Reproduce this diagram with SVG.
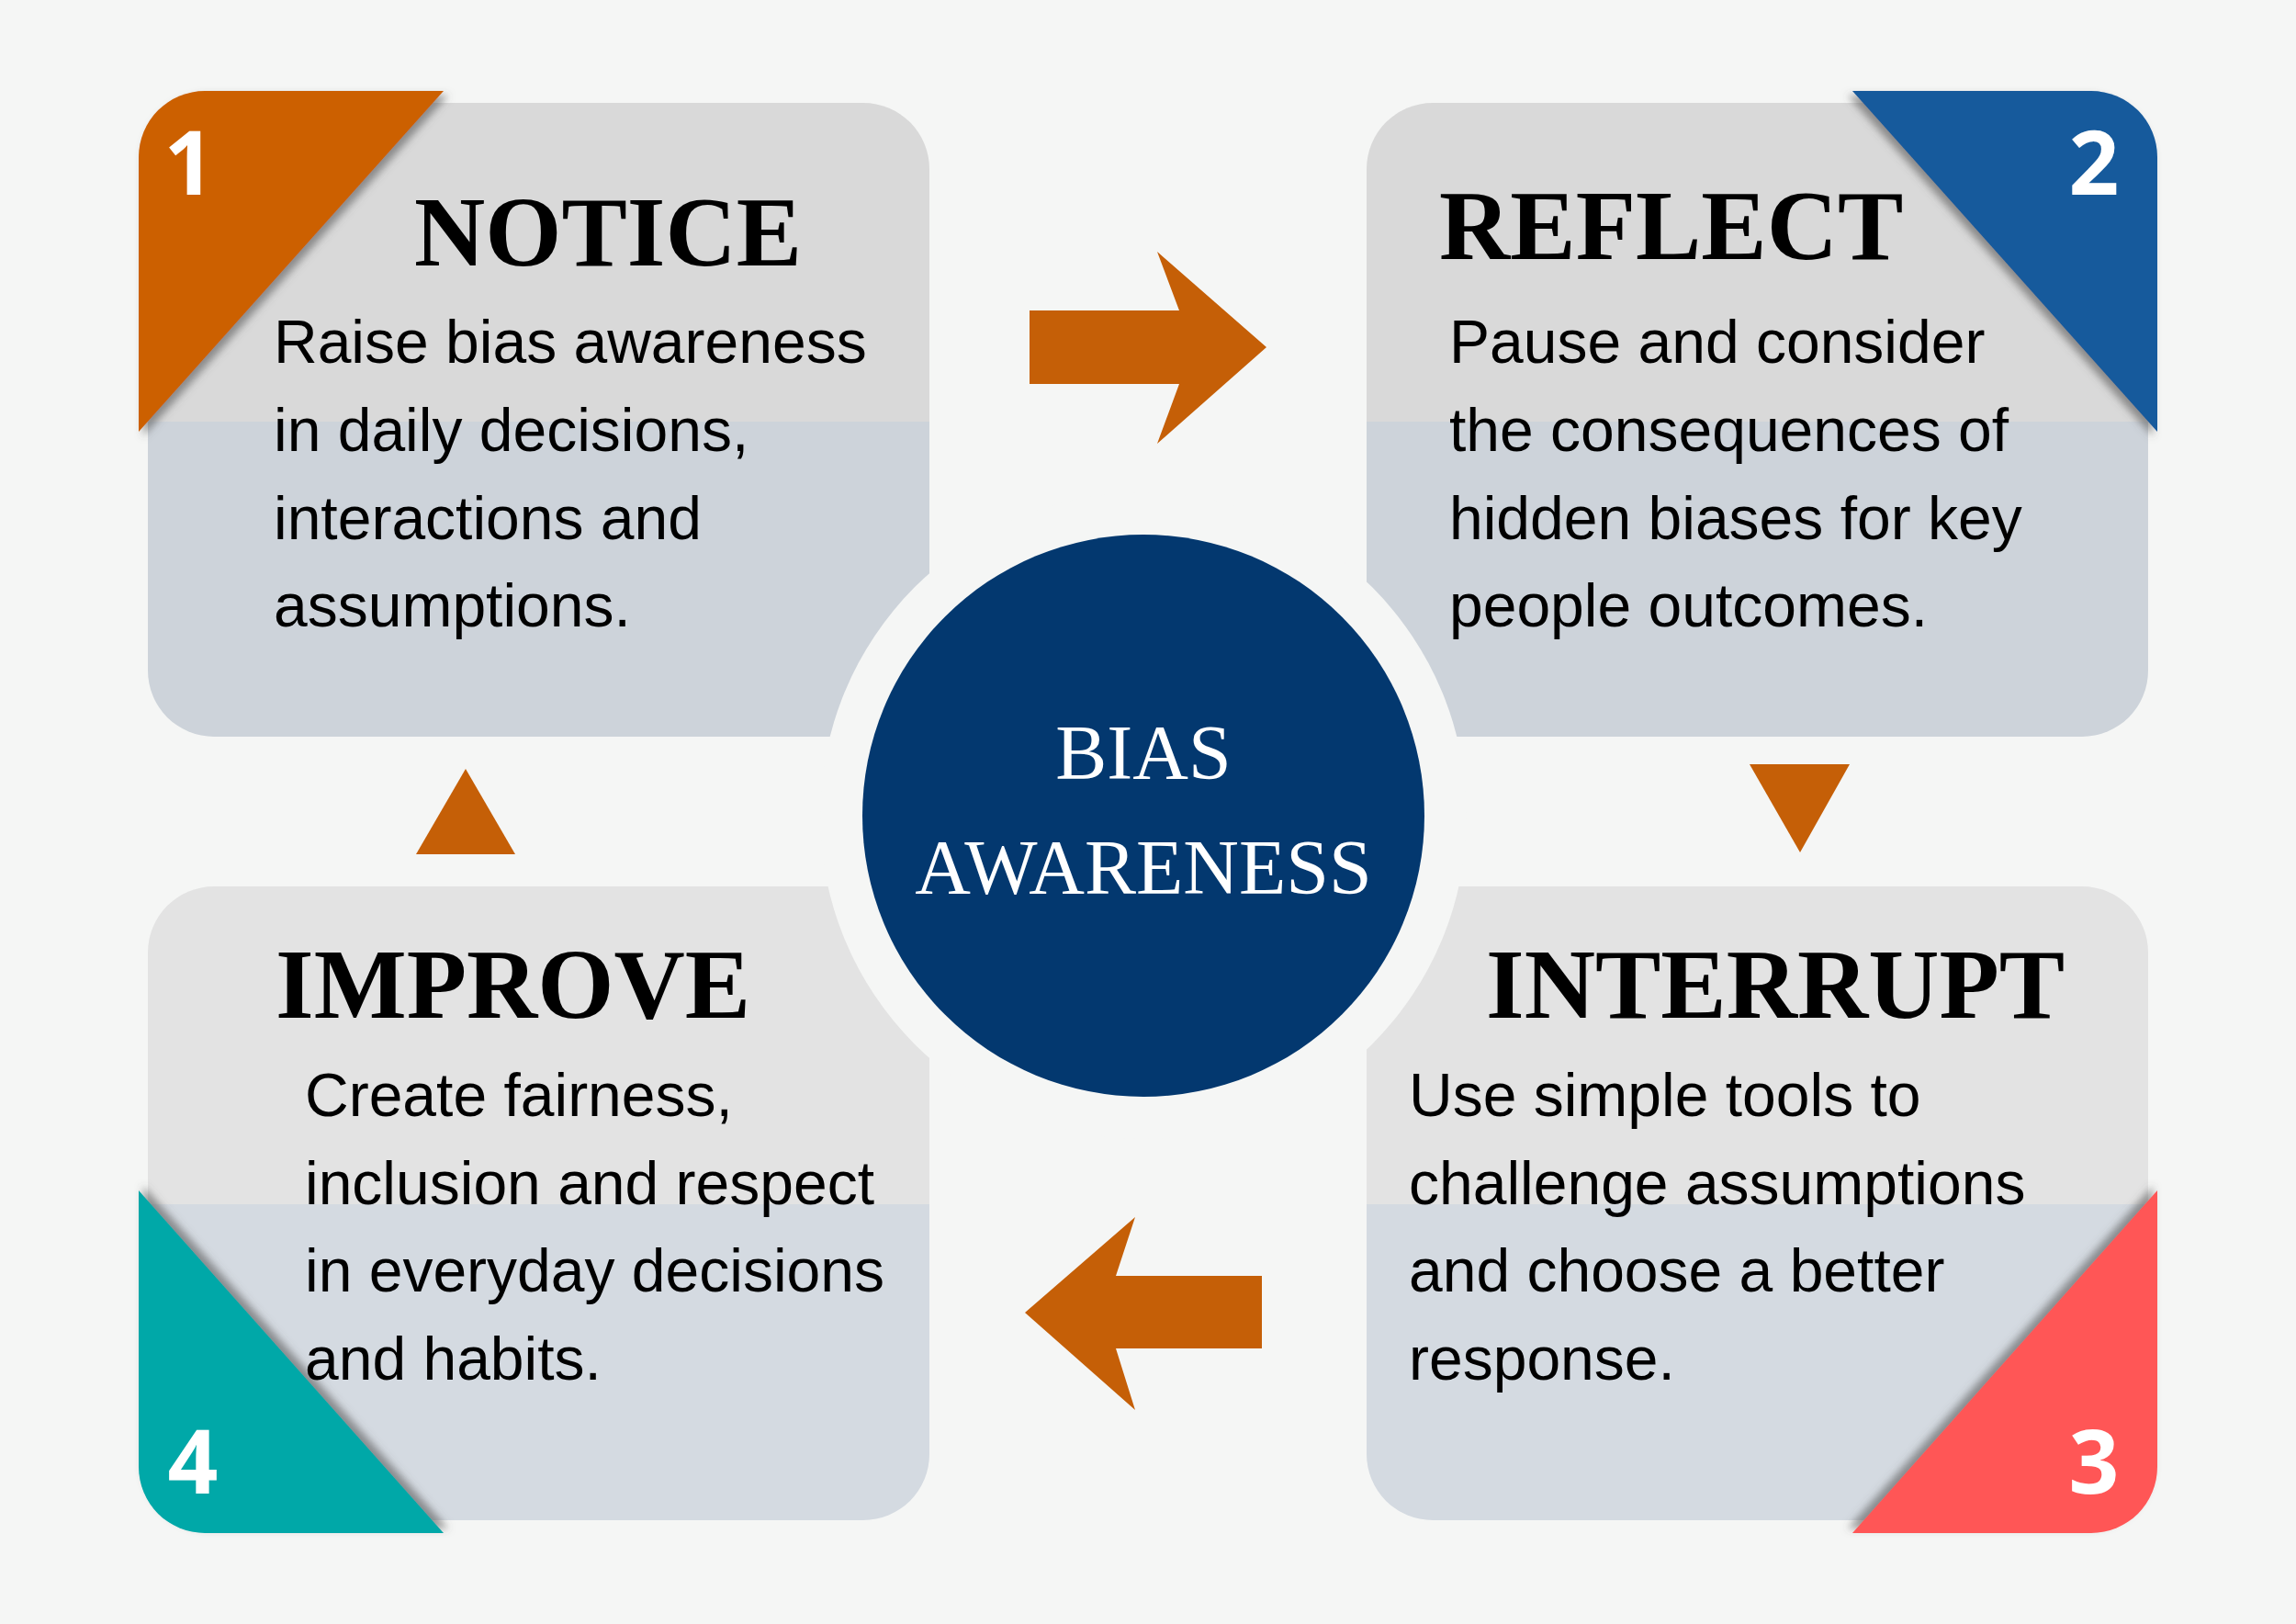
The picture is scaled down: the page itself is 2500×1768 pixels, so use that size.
<svg xmlns="http://www.w3.org/2000/svg" width="2500" height="1768" viewBox="0 0 2500 1768">
<style>
.title{font-family:"Liberation Serif","Times New Roman",serif;font-weight:bold;font-size:107px;fill:#000}
.body{font-family:"Liberation Sans",Arial,sans-serif;font-size:66px;fill:#000}
.num{font-family:"Open Sans","Liberation Sans",sans-serif;font-weight:bold;font-size:96px;fill:#fff;text-anchor:middle}
.center{font-family:"Liberation Serif","Times New Roman",serif;font-size:84px;fill:#fff;text-anchor:middle}
.arrow{fill:#c55f07}
</style>
<defs>
<clipPath id="c1"><rect x="161" y="112" width="851" height="690" rx="72"/></clipPath>
<clipPath id="c2"><rect x="1488" y="112" width="851" height="690" rx="72"/></clipPath>
<clipPath id="c3"><rect x="1488" y="965" width="851" height="690" rx="72"/></clipPath>
<clipPath id="c4"><rect x="161" y="965" width="851" height="690" rx="72"/></clipPath>
<filter id="s1" x="-20%" y="-20%" width="140%" height="140%"><feDropShadow dx="5" dy="5" stdDeviation="4" flood-color="#555" flood-opacity="0.6"/></filter>
<filter id="s2" x="-20%" y="-20%" width="140%" height="140%"><feDropShadow dx="-5" dy="5" stdDeviation="4" flood-color="#555" flood-opacity="0.6"/></filter>
<filter id="s3" x="-20%" y="-20%" width="140%" height="140%"><feDropShadow dx="-5" dy="-5" stdDeviation="4" flood-color="#555" flood-opacity="0.6"/></filter>
<filter id="s4" x="-20%" y="-20%" width="140%" height="140%"><feDropShadow dx="5" dy="-5" stdDeviation="4" flood-color="#555" flood-opacity="0.6"/></filter>
</defs>
<rect width="2500" height="1768" fill="#f5f6f5"/>
<g id="card-notice" clip-path="url(#c1)"><rect x="161" y="112" width="851" height="347" fill="#d9d9d9"/><rect x="161" y="459" width="851" height="343" fill="#cdd3da"/></g>
<g id="card-reflect" clip-path="url(#c2)"><rect x="1488" y="112" width="851" height="347" fill="#d9d9d9"/><rect x="1488" y="459" width="851" height="343" fill="#cdd3da"/></g>
<g id="card-interrupt" clip-path="url(#c3)"><rect x="1488" y="965" width="851" height="346" fill="#e3e3e3"/><rect x="1488" y="1311" width="851" height="344" fill="#d4dae1"/></g>
<g id="card-improve" clip-path="url(#c4)"><rect x="161" y="965" width="851" height="346" fill="#e3e3e3"/><rect x="161" y="1311" width="851" height="344" fill="#d4dae1"/></g>
<circle cx="1245" cy="888" r="352" fill="#f5f6f5"/>
<g id="badge1"><path d="M151,470 L151,171 A72 72 0 0 1 223,99 L483,99 Z" fill="#cc6100" filter="url(#s1)"/><text class="num" x="206" y="212">1</text></g>
<g id="badge2"><path d="M2017,99 L2277,99 A72 72 0 0 1 2349,171 L2349,470 Z" fill="#155a9c" filter="url(#s2)"/><text class="num" x="2280" y="212">2</text></g>
<g id="badge3"><path d="M2349,1296 L2349,1597 A72 72 0 0 1 2277,1669 L2017,1669 Z" fill="#ff5757" filter="url(#s3)"/><text class="num" x="2280" y="1626">3</text></g>
<g id="badge4"><path d="M151,1296 L151,1597 A72 72 0 0 0 223,1669 L483,1669 Z" fill="#00a8a8" filter="url(#s4)"/><text class="num" x="210" y="1626">4</text></g>
<g id="text-notice"><text class="title" x="451" y="289">NOTICE</text>
<text class="body" x="298" y="395">Raise bias awareness</text><text class="body" x="298" y="491">in daily decisions,</text><text class="body" x="298" y="587">interactions and</text><text class="body" x="298" y="682">assumptions.</text></g>
<g id="text-reflect"><text class="title" x="1567" y="282">REFLECT</text>
<text class="body" x="1578" y="395">Pause and consider</text><text class="body" x="1578" y="491">the consequences of</text><text class="body" x="1578" y="587">hidden biases for key</text><text class="body" x="1578" y="682">people outcomes.</text></g>
<g id="text-interrupt"><text class="title" x="1618" y="1108">INTERRUPT</text>
<text class="body" x="1534" y="1215">Use simple tools to</text><text class="body" x="1534" y="1311">challenge assumptions</text><text class="body" x="1534" y="1406">and choose a better</text><text class="body" x="1534" y="1502">response.</text></g>
<g id="text-improve"><text class="title" x="300" y="1108">IMPROVE</text>
<text class="body" x="332" y="1215">Create fairness,</text><text class="body" x="332" y="1311">inclusion and respect</text><text class="body" x="332" y="1406">in everyday decisions</text><text class="body" x="332" y="1502">and habits.</text></g>
<g id="center"><circle cx="1245" cy="888" r="306" fill="#03386f"/><text class="center" x="1245" y="848">BIAS</text><text class="center" x="1245" y="973">AWARENESS</text></g>
<g id="connectors">
<polygon class="arrow" points="1121,338 1284,338 1260,274 1379,378 1260,483 1284,418 1121,418"/>
<polygon class="arrow" points="1905,832 2014,832 1960,928"/>
<polygon class="arrow" points="1374,1389 1215,1389 1236,1325 1116,1429 1236,1535 1215,1468 1374,1468"/>
<polygon class="arrow" points="453,930 561,930 507,837"/>
</g>
</svg>
